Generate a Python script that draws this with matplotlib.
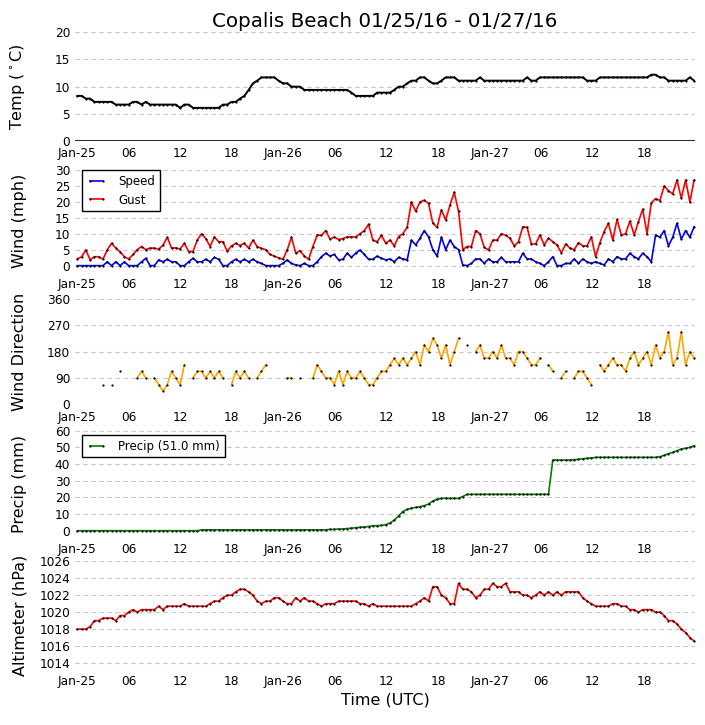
import numpy as np
import pandas as pd
import matplotlib
matplotlib.use('Agg')
import matplotlib.pyplot as plt
import matplotlib.dates as mdates
from matplotlib.ticker import FuncFormatter, MultipleLocator

nan = np.nan
station = 'Copalis Beach'

# ~half hourly obs, 2016-01-25 00Z .. 2016-01-27 23:50Z
times = pd.date_range('2016-01-25 00:00', '2016-01-27 23:50', periods=145)

temp_c = [8.3, 8.3, 7.8, 7.8, 7.2, 7.2, 7.2, 7.2, 7.2, 6.7, 6.7, 6.7,
          6.7, 7.2, 7.2, 6.7, 7.2, 6.7, 6.7, 6.7, 6.7, 6.7, 6.7, 6.7,
          6.1, 6.7, 6.7, 6.1, 6.1, 6.1, 6.1, 6.1, 6.1, 6.1, 6.7, 6.7,
          7.2, 7.2, 7.8, 8.3, 9.4, 10.6, 11.1, 11.7, 11.7, 11.7, 11.7, 11.1,
          10.6, 10.6, 10.0, 10.0, 10.0, 9.4, 9.4, 9.4, 9.4, 9.4, 9.4, 9.4,
          9.4, 9.4, 9.4, 9.4, 8.9, 8.3, 8.3, 8.3, 8.3, 8.3, 8.9, 8.9,
          8.9, 8.9, 9.4, 10.0, 10.0, 10.6, 11.1, 11.1, 11.7, 11.7, 11.1, 10.6,
          10.6, 11.1, 11.7, 11.7, 11.7, 11.1, 11.1, 11.1, 11.1, 11.1, 11.7, 11.1,
          11.1, 11.1, 11.1, 11.1, 11.1, 11.1, 11.1, 11.1, 11.1, 11.7, 11.1, 11.1,
          11.7, 11.7, 11.7, 11.7, 11.7, 11.7, 11.7, 11.7, 11.7, 11.7, 11.7, 11.1,
          11.1, 11.1, 11.7, 11.7, 11.7, 11.7, 11.7, 11.7, 11.7, 11.7, 11.7, 11.7,
          11.7, 11.7, 12.2, 12.2, 11.7, 11.7, 11.1, 11.1, 11.1, 11.1, 11.1, 11.7,
          11.1]

wind_mph = [0, 0, 0, 0, 0, 0, 0, 1.2, 0, 1.2, 0, 1.2,
            0, 0, 0, 1.2, 2.3, 0, 0, 1.8, 1.2, 2.0, 1.2, 1.2,
            0, 0, 1.2, 2.3, 1.2, 1.2, 2.0, 1.2, 2.6, 2.0, 0, 0,
            1.2, 2.0, 1.2, 2.0, 1.2, 2.0, 1.2, 0.7, 0, 0, 0, 0,
            0.7, 1.8, 0.7, 0.2, 0, 0.7, 0, 0, 1.2, 2.8, 3.9, 3.0,
            3.5, 1.8, 2.0, 3.9, 2.6, 3.9, 4.9, 3.5, 2.0, 2.0, 3.0, 2.3,
            1.8, 2.1, 1.2, 2.6, 2.1, 1.8, 8.0, 6.5, 8.6, 11.0, 9.0, 5.0,
            3.0, 8.9, 5.0, 8.0, 6.0, 5.0, 0.2, 0, 0.7, 2.1, 2.1, 0.7,
            2.1, 1.2, 1.2, 2.6, 1.2, 1.2, 1.2, 1.2, 3.9, 2.1, 2.1, 1.2,
            0.7, 0, 1.2, 2.8, 0, 0, 0.7, 0.7, 2.1, 0.7, 2.1, 1.2,
            0.7, 1.2, 0.7, 0.2, 2.1, 1.2, 2.8, 2.1, 2.1, 3.9, 2.8, 2.1,
            3.9, 2.8, 1.2, 9.6, 8.9, 11.0, 6.2, 8.9, 13.3, 8.3, 11.0, 8.9,
            12.2]

gust_mph = [2.1, 2.8, 4.9, 1.8, 2.8, 2.8, 2.0, 5.0, 7.0, 5.5, 4.3, 2.8,
            2.1, 3.5, 5.0, 6.0, 5.0, 5.5, 5.5, 5.2, 6.4, 8.9, 5.5, 5.6,
            5.2, 7.0, 4.4, 4.4, 8.0, 10.0, 8.5, 6.0, 9.0, 7.5, 7.5, 4.5,
            6.2, 7.0, 6.3, 7.0, 5.5, 8.0, 6.0, 5.4, 5.0, 3.5, 3.0, 2.4,
            2.0, 4.9, 8.9, 3.9, 4.7, 3.0, 2.0, 6.0, 9.6, 9.5, 11.0, 8.3,
            9.0, 8.2, 8.5, 9.0, 9.0, 9.0, 10.0, 11.0, 13.0, 8.0, 7.5, 9.5,
            7.0, 8.0, 6.2, 9.1, 10.0, 12.0, 20.0, 17.0, 20.0, 20.5, 19.5, 13.3,
            12.0, 17.5, 14.3, 19.0, 23.0, 17.0, 5.0, 6.0, 6.0, 11.0, 10.0, 5.7,
            4.9, 8.0, 8.0, 10.0, 9.5, 8.6, 6.2, 7.5, 12.2, 12.0, 6.8, 6.8,
            9.6, 6.5, 8.6, 7.5, 6.5, 4.0, 6.8, 5.5, 5.0, 7.2, 6.2, 6.2,
            9.0, 2.8, 7.2, 10.7, 13.3, 8.0, 14.5, 9.6, 10.0, 14.0, 9.6, 13.8,
            17.7, 10.0, 19.7, 21.0, 20.4, 25.0, 23.5, 22.5, 26.9, 21.1, 26.9, 20.0,
            26.9]

wind_dir = [nan, nan, nan, nan, nan, nan, 67.5, nan, 67.5, nan, 112.5, nan,
            nan, nan, 90, 112.5, 90, nan, 90, 67.5, 45, 67.5, 112.5, 90,
            67.5, 135, nan, 90, 112.5, 112.5, 90, 112.5, 90, 112.5, 90, nan,
            67.5, 112.5, 90, 112.5, 90, nan, 90, 112.5, 135, nan, nan, nan,
            nan, 90, 90, nan, 90, nan, nan, 90, 135, 112.5, 90, 90,
            67.5, 112.5, 67.5, 112.5, 90, 90, 112.5, 90, 67.5, 67.5, 90, 112.5,
            112.5, 135, 157.5, 135, 157.5, 135, 157.5, 180, 135, 202.5, 180, 225,
            202.5, 157.5, 202.5, 135, 180, 225, nan, 202.5, nan, 180, 202.5, 157.5,
            157.5, 180, 157.5, 202.5, 157.5, 157.5, 135, 180, 180, 157.5, 135, 135,
            157.5, nan, 135, 112.5, nan, 90, 112.5, nan, 90, 112.5, 112.5, 90,
            67.5, nan, 135, 112.5, 135, 157.5, 135, 135, 112.5, 157.5, 180, 135,
            157.5, 180, 135, 202.5, 157.5, 180, 247.5, 135, 157.5, 247.5, 135, 180,
            157.5]

precip_mm = [0, 0, 0, 0, 0, 0, 0, 0, 0, 0, 0, 0,
             0, 0, 0, 0, 0, 0, 0, 0, 0, 0, 0, 0,
             0, 0, 0, 0, 0, 0.5, 0.5, 0.5, 0.5, 0.5, 0.5, 0.5,
             0.5, 0.5, 0.5, 0.5, 0.5, 0.5, 0.5, 0.5, 0.5, 0.5, 0.5, 0.5,
             0.5, 0.5, 0.5, 0.5, 0.5, 0.5, 0.5, 0.5, 0.5, 0.5, 0.5, 0.8,
             0.8, 1.0, 1.0, 1.3, 1.5, 1.8, 2.0, 2.2, 2.5, 3.0, 3.0, 3.2,
             3.6, 4.6, 6.4, 8.8, 11.5, 12.8, 13.5, 14.0, 14.4, 15.0, 16.0, 17.8,
             18.8, 19.4, 19.4, 19.4, 19.4, 19.4, 20.5, 21.8, 21.8, 21.8, 21.8, 21.8,
             21.8, 21.8, 21.8, 21.8, 21.8, 21.8, 21.8, 21.8, 21.8, 21.8, 21.8, 21.8,
             21.8, 21.8, 21.8, 42.4, 42.4, 42.4, 42.4, 42.4, 42.6, 42.8, 43.2, 43.4,
             43.6, 44.0, 44.0, 44.0, 44.0, 44.0, 44.0, 44.0, 44.0, 44.0, 44.0, 44.0,
             44.0, 44.0, 44.0, 44.0, 44.4, 45.2, 46.2, 47.0, 48.0, 49.0, 49.4, 50.0,
             51.0]

alti_hpa = [1018.0, 1018.0, 1018.0, 1018.3, 1019.0, 1019.0, 1019.3, 1019.3, 1019.3, 1019.0, 1019.6, 1019.6,
            1020.0, 1020.3, 1020.0, 1020.3, 1020.3, 1020.3, 1020.3, 1020.7, 1020.3, 1020.7, 1020.7, 1020.7,
            1020.7, 1021.0, 1020.7, 1020.7, 1020.7, 1020.7, 1020.7, 1021.0, 1021.3, 1021.3, 1021.7, 1022.0,
            1022.0, 1022.4, 1022.7, 1022.7, 1022.4, 1022.0, 1021.3, 1021.0, 1021.3, 1021.3, 1021.7, 1021.7,
            1021.3, 1021.0, 1021.0, 1021.7, 1021.3, 1021.7, 1021.3, 1021.3, 1021.0, 1020.7, 1021.0, 1021.0,
            1021.0, 1021.3, 1021.3, 1021.3, 1021.3, 1021.3, 1021.0, 1021.0, 1020.7, 1021.0, 1020.7, 1020.7,
            1020.7, 1020.7, 1020.7, 1020.7, 1020.7, 1020.7, 1020.7, 1021.0, 1021.3, 1021.7, 1021.3, 1023.0,
            1023.0, 1022.0, 1021.7, 1021.0, 1021.0, 1023.4, 1022.7, 1022.7, 1022.4, 1021.7, 1022.0, 1022.7,
            1022.7, 1023.4, 1023.0, 1023.0, 1023.4, 1022.4, 1022.4, 1022.4, 1022.0, 1022.0, 1021.7, 1022.0,
            1022.4, 1022.0, 1022.4, 1022.0, 1022.4, 1022.0, 1022.4, 1022.4, 1022.4, 1022.4, 1021.7, 1021.3,
            1021.0, 1020.7, 1020.7, 1020.7, 1020.7, 1021.0, 1021.0, 1020.7, 1020.7, 1020.3, 1020.3, 1020.0,
            1020.3, 1020.3, 1020.3, 1020.0, 1020.0, 1019.6, 1019.0, 1019.0, 1018.6, 1018.0, 1017.6, 1017.0,
            1016.6]

plt.rcParams['font.family'] = 'DejaVu Sans'

fig = plt.figure(figsize=(7.05, 7.25), dpi=100)
W, H = 705., 725.

# axes boxes in pixels: top, bottom
boxes = [(32.3, 141), (170, 271.7), (299, 404.3), (430.7, 536.7), (561.3, 669)]
axes = []
for top, bot in boxes:
    axes.append(fig.add_axes([75 / W, 1 - bot / H, 620 / W, (bot - top) / H]))
ax1, ax2, ax3, ax4, ax5 = axes

mk = dict(marker='o', ms=1.6, mfc='k', mec='k', mew=0)
leg = dict(loc='upper left', borderaxespad=0, numpoints=2, fancybox=False,
           edgecolor='k', framealpha=1, fontsize=8.5, handlelength=1.7,
           handletextpad=1.0)

ax1.plot(times, temp_c, color='k', lw=1.4, **mk)
ax1.axhline(0, color='k', lw=1.2)
ax1.set_ylim(0, 20)
ax1.yaxis.set_major_locator(MultipleLocator(5))
ax1.set_ylabel(r'Temp ($^\circ$C)')
ax1.set_title(station + ' 01/25/16 - 01/27/16', fontsize=14.3, pad=4)

ax2.plot(times, wind_mph, color='b', lw=1.2, label='Speed', **mk)
ax2.plot(times, gust_mph, color='r', lw=1.2, label='Gust', **mk)
ax2.set_ylim(-1.9, 30)
ax2.yaxis.set_major_locator(MultipleLocator(5))
ax2.set_ylabel('Wind (mph)')
ax2.legend(bbox_to_anchor=(0.011, 1.0), **leg)

ax3.plot(times, wind_dir, color='orange', lw=1.2, **mk)
ax3.set_ylim(0, 360)
ax3.set_yticks([0, 90, 180, 270, 360])
ax3.set_ylabel('Wind Direction')

ax4.plot(times, precip_mm, color='green', lw=1.2,
         label='Precip (%.1f mm)' % precip_mm[-1], **mk)
ax4.set_ylim(-3.6, 60)
ax4.yaxis.set_major_locator(MultipleLocator(10))
ax4.set_ylabel('Precip (mm)')
ax4.legend(bbox_to_anchor=(0.011, 0.96), **leg)

ax5.plot(times, alti_hpa, color='r', lw=1.2, **mk)
ax5.set_ylim(1013.3, 1026)
ax5.set_yticks(np.arange(1014, 1027, 2))
ax5.set_ylabel('Altimeter (hPa)')
ax5.set_xlabel('Time (UTC)', fontsize=11.5, labelpad=3)


def hour_fmt(x, pos):
    d = mdates.num2date(x)
    if d.hour == 0:
        return d.strftime('%b-%d')
    return d.strftime('%H')


x0 = times[0] - pd.Timedelta(minutes=16)
x1 = times[-1] + pd.Timedelta(minutes=6)
for ax in axes:
    ax.set_xlim(x0, x1)
    ax.xaxis.set_major_locator(mdates.HourLocator(byhour=[0, 6, 12, 18]))
    ax.xaxis.set_major_formatter(FuncFormatter(hour_fmt))
    ax.tick_params(length=0, labelsize=8.7)
    ax.tick_params(axis='x', pad=4.5)
    ax.tick_params(axis='y', pad=3.5)
    ax.yaxis.grid(True, color='0.78', lw=0.8, linestyle=(0, (3.8, 3.4)))
    ax.set_axisbelow(True)
    for s in ax.spines.values():
        s.set_visible(False)
    ax.yaxis.label.set_size(11.5)
    ax.yaxis.set_label_coords(-0.077, 0.5)

fig.savefig('out.png', dpi=100)
